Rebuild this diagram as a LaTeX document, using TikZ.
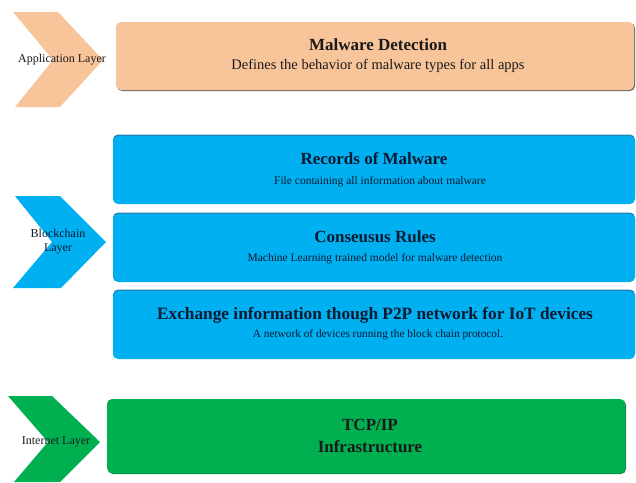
\documentclass[tikz,border=0pt]{standalone}
\usepackage{fontspec}
\setmainfont{Liberation Serif}
\definecolor{peach}{HTML}{F8C59B}
\definecolor{peachd}{HTML}{6E6660}
\definecolor{sky}{HTML}{00B0F0}
\definecolor{skyd}{HTML}{1E86B8}
\definecolor{leaf}{HTML}{00B050}
\definecolor{leafd}{HTML}{0A9045}
\definecolor{ink}{HTML}{1A1A1A}
\definecolor{navy}{HTML}{0A1A33}
\begin{document}
\begin{tikzpicture}[x=1pt,y=-1pt,
  layerbox/.style={rectangle, rounded corners=5pt, inner sep=0pt},
  ttl/.style={font=\fontsize{17}{19}\selectfont\bfseries, inner sep=0pt, anchor=center},
  sub/.style={font=\fontsize{11.5}{13}\selectfont, inner sep=0pt, anchor=center},
  lbl/.style={font=\fontsize{12}{14}\selectfont, inner sep=0pt, align=center, text=ink}]
\useasboundingbox (0,0) rectangle (636,482);
% chevrons
\fill[peach] (13,12) -- (58,12) -- (103,60) -- (60,107) -- (15,107) -- (53,60) -- cycle;
\node[lbl] (applbl) at (62,60) {Application Layer};
\fill[sky] (15,196) -- (60,196) -- (106,242) -- (61,288) -- (13,288) -- (52,242) -- cycle;
\node[lbl, text=navy] (bclbl) at (58,242) {Blockchain\\Layer};
\fill[leaf] (8,396) -- (52,396) -- (100,442) -- (60,482) -- (14,482) -- (48,442) -- cycle;
\node[lbl] (netlbl) at (56,442) {Internet Layer};
% application box
\node[layerbox, fill=peachd, minimum width=518pt, minimum height=68pt] (appsh) at (376,57) {};
\node[layerbox, fill=peach, minimum width=518pt, minimum height=68pt] (app) at (375,56) {};
\node[ttl, text=ink] (appt) at (378,45) {Malware Detection};
\node[sub, text=ink, font=\fontsize{14.5}{16}\selectfont] (apps) at (378,66) {Defines the behavior of malware types for all apps};
% blockchain boxes
\node[layerbox, fill=skyd, minimum width=522pt, minimum height=69pt] (recsh) at (374,169) {};
\node[layerbox, fill=sky, minimum width=522pt, minimum height=68pt] (rec) at (374,170) {};
\node[ttl, text=navy] (rect) at (374,159) {Records of Malware};
\node[sub, text=navy] (recs) at (380,182) {File containing all information about malware};
\node[layerbox, fill=skyd, minimum width=522pt, minimum height=69pt] (consh) at (374,247) {};
\node[layerbox, fill=sky, minimum width=522pt, minimum height=68pt] (con) at (374,248) {};
\node[ttl, text=navy] (cont) at (375,237) {Conseusus Rules};
\node[sub, text=navy] (cons) at (375,259) {Machine Learning trained model for malware detection};
\node[layerbox, fill=skyd, minimum width=522pt, minimum height=69pt] (exsh) at (374,324) {};
\node[layerbox, fill=sky, minimum width=522pt, minimum height=68pt] (ex) at (374,325) {};
\node[ttl, text=navy, font=\fontsize{17.3}{19}\selectfont\bfseries] (ext) at (375,315) {Exchange information though P2P network for IoT devices};
\node[sub, text=navy, font=\fontsize{11.3}{13}\selectfont] (exs) at (378,335) {A network of devices running the block chain protocol.};
% internet box
\node[layerbox, fill=leafd, minimum width=518pt, minimum height=74pt] (netsh) at (367,437) {};
\node[layerbox, fill=leaf, minimum width=518pt, minimum height=74pt] (net) at (366,436) {};
\node[ttl, text=ink] (nett) at (370,425) {TCP/IP};
\node[ttl, text=ink] (nets) at (370,447) {Infrastructure};
\end{tikzpicture}
\end{document}
